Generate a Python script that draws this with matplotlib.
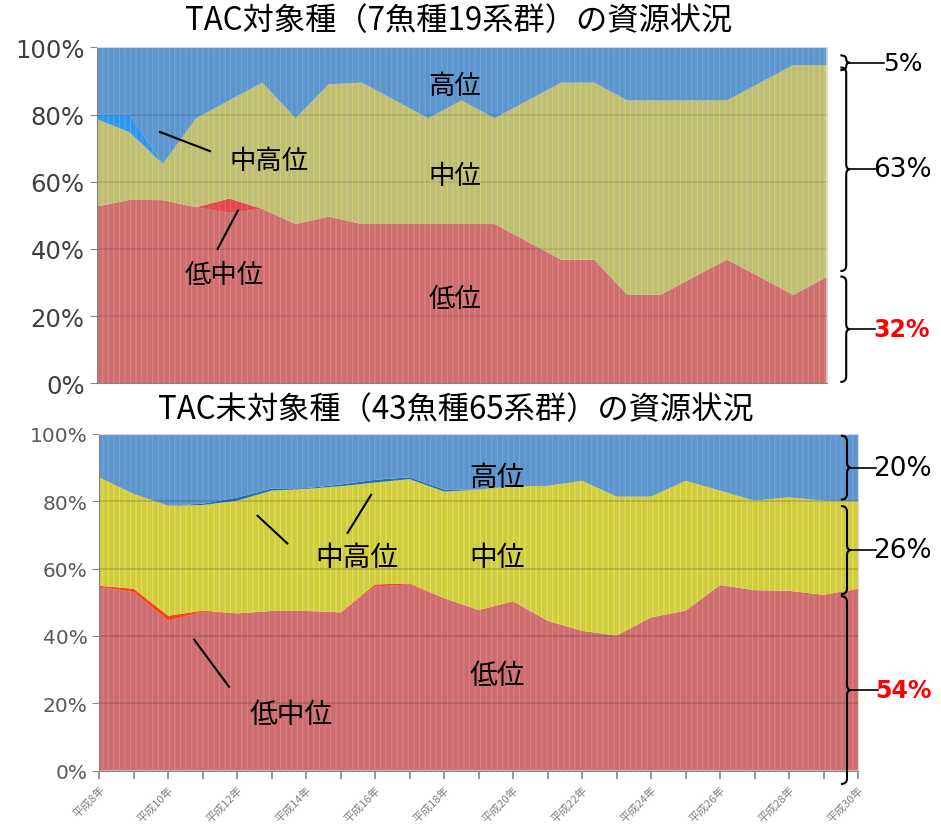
import numpy as np
import matplotlib
matplotlib.use("Agg")
import matplotlib.pyplot as plt
from matplotlib.path import Path
from matplotlib.patches import PathPatch
from matplotlib.transforms import blended_transform_factory

plt.rcParams['font.family'] = ['Noto Sans CJK JP', 'DejaVu Sans']
plt.rcParams['hatch.linewidth'] = 0.8

years = list(range(8, 31))
year_labels = ['平成%d年' % y if y % 2 == 0 else '' for y in years]

# TAC対象種 (7魚種19系群), %
tac_low = [52.6, 54.6, 54.5, 52.4, 50.7, 51.9, 47.4, 49.6, 47.4, 47.4, 47.4, 47.4,
           47.4, 42.1, 36.8, 36.8, 26.3, 26.3, 31.6, 36.8, 31.6, 26.3, 31.6]
tac_lowmid = [0, 0, 0, 0, 4.3, 0, 0, 0, 0, 0, 0, 0,
              0, 0, 0, 0, 0, 0, 0, 0, 0, 0, 0]
tac_mid = [26.1, 20.1, 10.8, 26.5, 29.2, 37.6, 31.5, 39.4, 42.1, 36.8, 31.5, 36.8,
           31.5, 42.1, 52.7, 52.7, 57.9, 57.9, 52.6, 47.4, 57.9, 68.4, 63.1]
tac_midhigh = [1.3, 5.3, 0, 0, 0, 0, 0, 0, 0, 0, 0, 0,
               0, 0, 0, 0, 0, 0, 0, 0, 0, 0, 0]
tac_high = [20.0, 20.0, 34.7, 21.1, 15.8, 10.5, 21.1, 11.0, 10.5, 15.8, 21.1, 15.8,
            21.1, 15.8, 10.5, 10.5, 15.8, 15.8, 15.8, 15.8, 10.5, 5.3, 5.3]

# TAC未対象種 (43魚種65系群), %
non_low = [54.6, 53.0, 44.5, 47.2, 46.7, 47.4, 47.4, 47.0, 54.7, 55.3, 51.2, 47.7,
           50.3, 44.5, 41.5, 40.1, 45.5, 47.5, 55.1, 53.6, 53.4, 52.2, 54.0]
non_lowmid = [0.3, 1.0, 1.5, 0.3, 0, 0, 0, 0, 0.6, 0.3, 0, 0,
              0, 0, 0, 0, 0, 0, 0, 0, 0, 0, 0]
non_mid = [32.2, 28.2, 32.7, 31.4, 33.5, 35.8, 36.3, 37.5, 30.3, 31.0, 31.7, 35.8,
           34.2, 40.1, 44.6, 41.3, 35.9, 38.6, 28.1, 26.6, 27.8, 28.0, 26.0]
non_midhigh = [0, 0, 0, 0.4, 0.9, 0.6, 0.2, 0.5, 0.8, 0.5, 0.6, 0,
               0, 0, 0, 0, 0, 0, 0, 0, 0, 0, 0]
non_high = [12.9, 17.8, 21.3, 20.7, 18.9, 16.2, 16.1, 15.0, 13.6, 12.9, 16.5, 16.5,
            15.5, 15.4, 13.9, 18.6, 18.6, 13.9, 16.8, 19.8, 18.8, 19.8, 20.0]

tac_title = 'TAC対象種（7魚種19系群）の資源状況'
non_title = 'TAC未対象種（43魚種65系群）の資源状況'

# fill / stripe colours, bottom layer first
tac_colors = ['#CD6E6F', '#E04A4C', '#BEBD7C', '#2E96EE', '#5E95CC']
tac_stripes = ['#E38484', '#E86060', '#D6D160', '#55AAF2', '#70A5D8']
non_colors = ['#CC6E70', '#F0431A', '#CFCB48', '#1C6DB6', '#5E95CC']
non_stripes = ['#E08080', '#F86030', '#E8E43A', '#3380C8', '#70A5D8']


def stack(ax, series, colors, stripes, grid_alpha):
    x = np.array(years)
    base = np.zeros(len(years))
    for vals, c, s in zip(series, colors, stripes):
        top = base + np.array(vals)
        ax.fill_between(x, base, top, facecolor=c, edgecolor=s, hatch='|||',
                        linewidth=0, zorder=1)
        base = top
    for g in [20, 40, 60, 80]:
        ax.axhline(g, color='black', alpha=grid_alpha, lw=1.2, zorder=2)
    ax.set_xlim(8, 30)
    ax.set_ylim(0, 100)
    ax.set_yticks([0, 20, 40, 60, 80, 100])
    for sp in ['top', 'right']:
        ax.spines[sp].set_color('#D9D9D9')
    for sp in ['left', 'bottom']:
        ax.spines[sp].set_color('#868686')


def brace(ax, x, y0, y1, label, tx, gap=0.04, color='black', bold=False, size=19):
    # curly bracket "}" spanning y0..y1, then a leader line to the label
    tr = blended_transform_factory(ax.transAxes, ax.transData)
    w = 0.008
    d = min(1.6, (y1 - y0) / 4)
    ym = (y0 + y1) / 2
    verts = [(x - w, y1), (x, y1), (x, y1 - d), (x, ym + d), (x, ym), (x + w * 0.6, ym),
             (x, ym), (x, ym - d), (x, y0 + d), (x, y0), (x - w, y0)]
    codes = [Path.MOVETO, Path.CURVE3, Path.CURVE3, Path.LINETO, Path.CURVE3, Path.CURVE3,
             Path.CURVE3, Path.CURVE3, Path.LINETO, Path.CURVE3, Path.CURVE3]
    ax.add_patch(PathPatch(Path(verts, codes), fill=False, lw=1.5, color='black',
                           transform=tr, clip_on=False, zorder=5))
    ax.plot([x + w * 0.6, tx - gap], [ym, ym], color='black', lw=1.2,
            transform=tr, clip_on=False, zorder=5)
    ax.text(tx, ym, label, transform=tr, ha='center', va='center', fontsize=size,
            color=color, fontweight='bold' if bold else 'normal',
            family='DejaVu Sans', zorder=6)


fig = plt.figure(figsize=(9.41, 8.28), dpi=100)

# upper chart
ax1 = fig.add_axes([96.5 / 941, 1 - 384.3 / 828, 730 / 941, 336 / 828])
stack(ax1, [tac_low, tac_lowmid, tac_mid, tac_midhigh, tac_high],
      tac_colors, tac_stripes, 0.10)
ax1.set_yticklabels(['%d%%' % v for v in range(0, 101, 20)],
                    family='DejaVu Sans', fontsize=17.5, color='#404040')
ax1.tick_params(axis='y', direction='out', length=5, color='#868686')
ax1.tick_params(axis='x', length=0, labelbottom=False)
ax1.set_xticks(years)

ax1.text(18.8, 88.6, '高位', fontsize=19, ha='center', va='center')
ax1.text(18.8, 61.8, '中位', fontsize=19, ha='center', va='center')
ax1.text(18.8, 25.1, '低位', fontsize=19, ha='center', va='center')
ax1.text(13.2, 66.4, '中高位', fontsize=19, ha='center', va='center')
ax1.plot([9.91, 11.42], [74.8, 69.1], color='black', lw=1.5)
ax1.text(11.84, 32.4, '低中位', fontsize=19, ha='center', va='center')
ax1.plot([12.26, 11.65], [51.4, 40.0], color='black', lw=1.5)

brace(ax1, 1.027, 93.2, 97.6, '5%', 1.105, gap=0.026, size=18)
brace(ax1, 1.027, 33.4, 94.0, '63%', 1.104, gap=0.036)
brace(ax1, 1.027, 0.4, 31.8, '32%', 1.103, gap=0.036, color='red', bold=True, size=17)

# lower chart
ax2 = fig.add_axes([99.3 / 941, 1 - 771.5 / 828, 758.7 / 941, 336.5 / 828])
stack(ax2, [non_low, non_lowmid, non_mid, non_midhigh, non_high],
      non_colors, non_stripes, 0.16)
ax2.set_yticklabels(['%d%%' % v for v in range(0, 101, 20)],
                    family='DejaVu Sans', fontsize=14.5, color='#595959')
ax2.tick_params(axis='y', direction='out', length=5, color='#868686')
ax2.set_xticks(years)
ax2.set_xticklabels(year_labels, rotation=45, ha='right', rotation_mode='anchor',
                    fontsize=8, color='#808080')
ax2.tick_params(axis='x', direction='out', length=6, width=1.2, color='#868686')

ax2.text(19.54, 87.1, '高位', fontsize=20, ha='center', va='center')
ax2.text(19.54, 63.4, '中位', fontsize=20, ha='center', va='center')
ax2.text(19.54, 28.4, '低位', fontsize=20, ha='center', va='center')
ax2.text(15.46, 63.4, '中高位', fontsize=20, ha='center', va='center')
ax2.plot([12.59, 13.45], [75.7, 67.5], color='black', lw=1.5)
ax2.plot([15.88, 15.2], [81.9, 70.6], color='black', lw=1.5)
ax2.text(13.56, 16.8, '低中位', fontsize=20, ha='center', va='center')
ax2.plot([10.75, 11.76], [38.9, 24.9], color='black', lw=1.5)

brace(ax2, 0.9855, 80.5, 99.5, '20%', 1.058, gap=0.034)
brace(ax2, 0.9855, 52.4, 78.6, '26%', 1.058, gap=0.034)
brace(ax2, 0.9855, -4.0, 51.8, '54%', 1.060, gap=0.034, color='red', bold=True, size=17)

fig.text(459 / 941, 1 - 21 / 828, tac_title, fontsize=22.5, ha='center', va='center')
fig.text(456 / 941, 1 - 410 / 828, non_title, fontsize=22.5, ha='center', va='center')

fig.savefig('out.png', dpi=100)
